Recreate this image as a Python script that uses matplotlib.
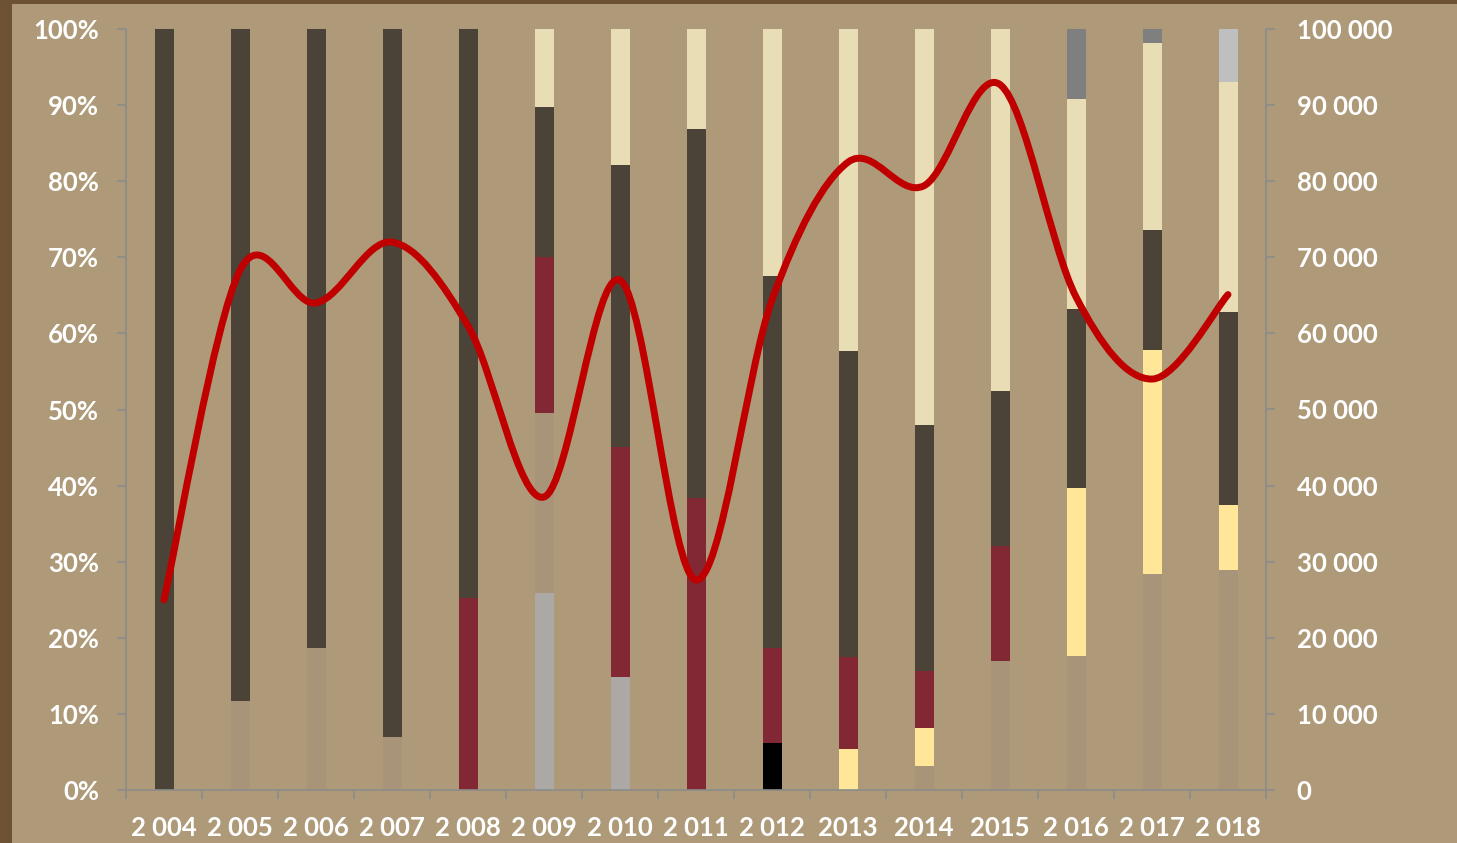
import matplotlib
matplotlib.use('Agg')
import matplotlib.pyplot as plt
import numpy as np
from matplotlib.path import Path
from matplotlib.patches import PathPatch, Rectangle
from matplotlib.ticker import FuncFormatter

years = ['2 004', '2 005', '2 006', '2 007', '2 008', '2 009', '2 010', '2 011',
         '2 012', '2013', '2014', '2015', '2 016', '2 017', '2 018']

# shares in % (bottom to top)
light_gray = [0, 0, 0, 0, 0, 25.9, 14.9, 0, 0, 0, 0, 0, 0, 0, 0]
black = [0, 0, 0, 0, 0, 0, 0, 0, 6.2, 0, 0, 0, 0, 0, 0]
taupe = [0, 11.7, 18.7, 6.9, 0, 23.6, 0, 0, 0, 0, 3.2, 17.0, 17.6, 28.4, 28.9]
yellow = [0, 0, 0, 0, 0, 0, 0, 0, 0, 5.4, 4.9, 0, 22.1, 29.4, 8.5]
maroon = [0, 0, 0, 0, 25.2, 20.6, 30.2, 38.4, 12.4, 12.1, 7.5, 15.1, 0, 0, 0]
dark = [100, 88.3, 81.3, 93.1, 74.8, 19.6, 37.0, 48.4, 48.9, 40.2, 32.4, 20.3, 23.5, 15.8, 25.4]
cream = [0, 0, 0, 0, 0, 10.3, 17.9, 13.2, 32.5, 42.3, 52.0, 47.6, 27.6, 24.6, 30.2]
gray = [0, 0, 0, 0, 0, 0, 0, 0, 0, 0, 0, 0, 9.2, 1.8, 0]
silver = [0, 0, 0, 0, 0, 0, 0, 0, 0, 0, 0, 0, 0, 0, 7.0]

total = [25000, 68300, 64000, 72000, 61000, 38500, 67000, 27600,
         64400, 82500, 79400, 92700, 64800, 54000, 65100]

series = [(light_gray, '#ABA8A6'), (black, '#000000'), (taupe, '#A79479'),
          (yellow, '#FFE699'), (maroon, '#822834'), (dark, '#4B4238'),
          (cream, '#E8DDB5'), (gray, '#7F7F7F'), (silver, '#BFBFBF')]

bg = '#AE9A78'
axis_col = '#8C8C8C'
font = 'Lato'

fig = plt.figure(figsize=(14.57, 8.43), dpi=100, facecolor='#6E5234')
fig.patches.append(Rectangle((12 / 1457, 0), 1, 1 - 4 / 843, transform=fig.transFigure,
                             facecolor=bg, edgecolor='none', zorder=-5))

ax = fig.add_axes([126 / 1457, 53 / 843, 1140 / 1457, 761 / 843])
ax.set_facecolor('none')
x = np.arange(len(years))
bottom = np.zeros(len(years))
for vals, col in series:
    v = np.array(vals, dtype=float)
    ax.bar(x, v, 0.25, bottom=bottom, color=col, edgecolor='none', zorder=2)
    bottom += v

ax.set_xlim(-0.5, len(years) - 0.5)
ax.set_ylim(0, 100)
ax.set_yticks(np.arange(0, 101, 10))
ax.yaxis.set_major_formatter(FuncFormatter(lambda v, p: '%d%%' % v))
ax.set_xticks(x)
ax.set_xticklabels(years)
ax.set_xticks(np.arange(-0.5, len(years), 1), minor=True)
ax.tick_params(axis='x', which='major', length=0, pad=19)
ax.tick_params(axis='x', which='minor', length=6.5, color=axis_col, width=1.2)
ax.tick_params(axis='y', length=6.5, color=axis_col, width=1.2, pad=13)
for s in ['top', 'right']:
    ax.spines[s].set_visible(False)
for s in ['left', 'bottom']:
    ax.spines[s].set_color(axis_col)
    ax.spines[s].set_linewidth(1.2)

ax2 = ax.twinx()
ax2.set_ylim(0, 100000)
ax2.set_yticks(np.arange(0, 100001, 10000))
ax2.yaxis.set_major_formatter(FuncFormatter(lambda v, p: '{:,}'.format(int(v)).replace(',', ' ')))
ax2.tick_params(axis='y', length=6.5, color=axis_col, width=1.2, pad=15.5)
for s in ['top', 'left', 'bottom']:
    ax2.spines[s].set_visible(False)
ax2.spines['right'].set_color(axis_col)
ax2.spines['right'].set_linewidth(1.2)

# smoothed line (Excel style bezier through the points)
pts = np.column_stack([x, total]).astype(float)
ext = np.vstack([pts[0], pts, pts[-1]])
verts = [tuple(pts[0])]
codes = [Path.MOVETO]
for i in range(len(pts) - 1):
    p0, p1, p2, p3 = ext[i], ext[i + 1], ext[i + 2], ext[i + 3]
    c1 = p1 + (p2 - p0) / 6
    c2 = p2 - (p3 - p1) / 6
    verts += [tuple(c1), tuple(c2), tuple(p2)]
    codes += [Path.CURVE4] * 3
ax2.add_patch(PathPatch(Path(verts, codes), facecolor='none', edgecolor='#C00000',
                        linewidth=5, capstyle='round', joinstyle='round', zorder=5))

for a in (ax, ax2):
    for lab in a.get_xticklabels() + a.get_yticklabels():
        lab.set_color('white')
        lab.set_fontweight('bold')
        lab.set_fontsize(18.5)
        lab.set_family(font)

fig.savefig('out.png', dpi=100, facecolor=fig.get_facecolor())
